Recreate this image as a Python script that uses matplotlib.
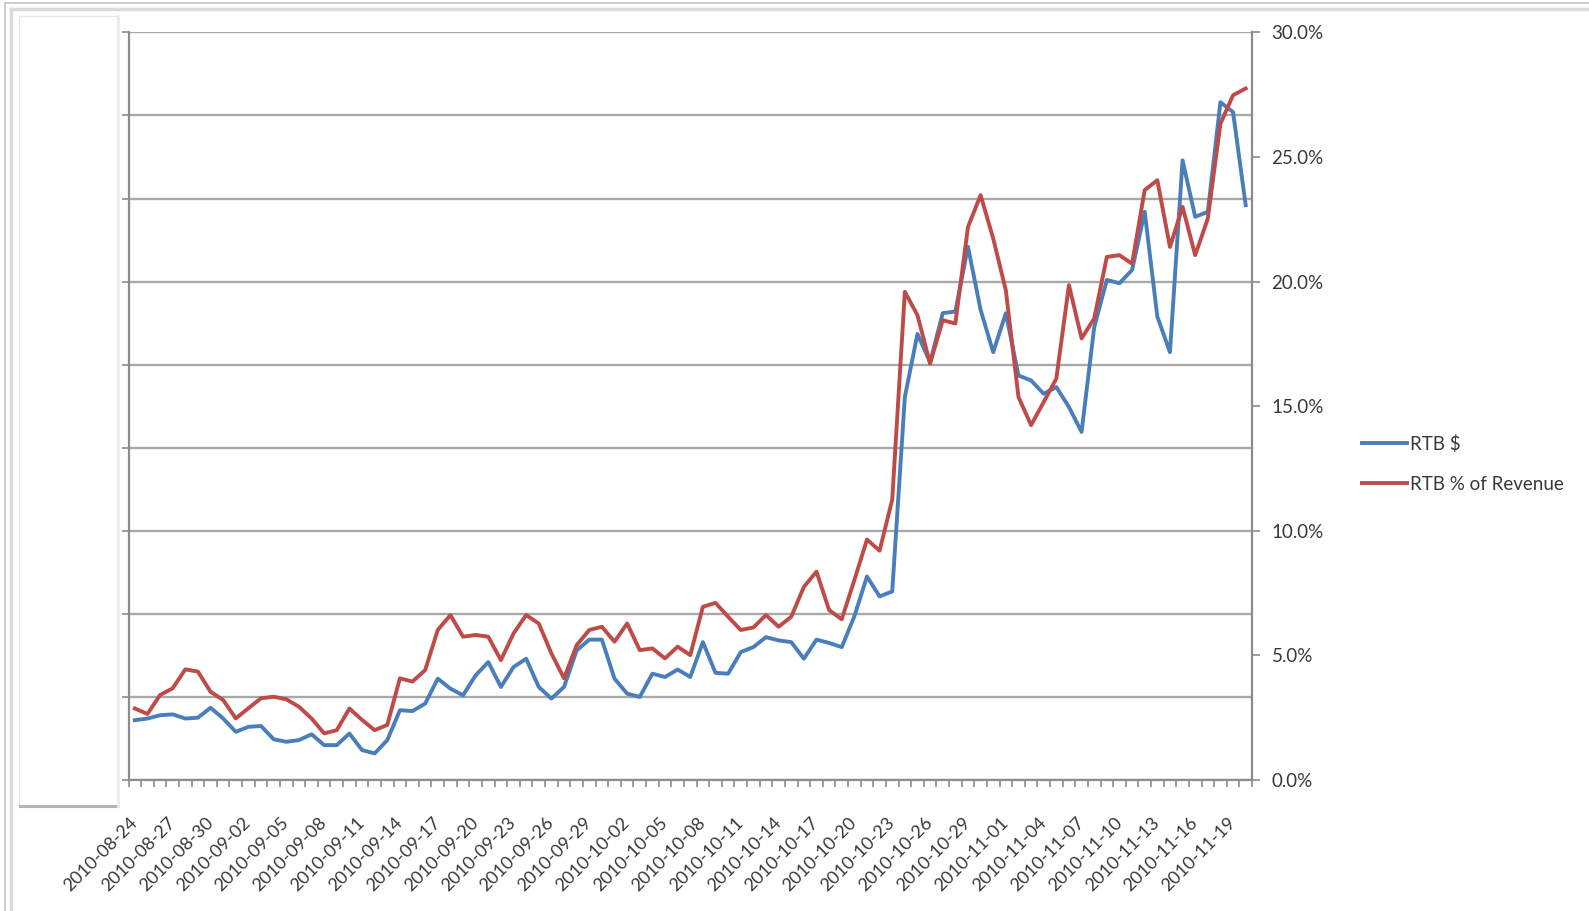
import matplotlib
matplotlib.use('Agg')
import matplotlib.pyplot as plt
import numpy as np
import pandas as pd
from matplotlib.lines import Line2D
from matplotlib.patches import Rectangle

plt.rcParams['font.family'] = ['Lato', 'DejaVu Sans']

# ---------------- data ----------------
dates = pd.date_range('2010-08-24', '2010-11-20', freq='D')
categories = [d.strftime('%Y-%m-%d') for d in dates]

# RTB $ (left axis, unlabeled; units = one gridline step)
rtb_dollars = [0.72, 0.74, 0.78, 0.79, 0.74, 0.75, 0.87, 0.74, 0.58, 0.64,
               0.65, 0.49, 0.46, 0.48, 0.55, 0.42, 0.42, 0.56, 0.36, 0.32,
               0.48, 0.84, 0.83, 0.92, 1.22, 1.10, 1.02, 1.26, 1.42, 1.12,
               1.36, 1.46, 1.12, 0.98, 1.12, 1.56, 1.69, 1.69, 1.22, 1.04,
               1.00, 1.28, 1.24, 1.33, 1.24, 1.66, 1.29, 1.28, 1.54, 1.60,
               1.72, 1.68, 1.66, 1.46, 1.69, 1.65, 1.60, 1.97, 2.45, 2.21,
               2.27, 4.61, 5.37, 5.03, 5.62, 5.64, 6.42, 5.66, 5.15, 5.62,
               4.87, 4.81, 4.65, 4.73, 4.49, 4.19, 5.45, 6.02, 5.98, 6.14,
               6.84, 5.58, 5.15, 7.46, 6.78, 6.84, 8.16, 8.04, 6.92]

# RTB % of Revenue (right axis, percent)
rtb_pct = [2.87, 2.65, 3.41, 3.68, 4.44, 4.35, 3.54, 3.21, 2.47, 2.88,
           3.28, 3.34, 3.24, 2.94, 2.47, 1.87, 2.00, 2.87, 2.41, 2.00,
           2.21, 4.08, 3.95, 4.41, 6.02, 6.62, 5.75, 5.82, 5.75, 4.81,
           5.88, 6.62, 6.28, 5.08, 4.08, 5.41, 6.02, 6.15, 5.55, 6.28,
           5.21, 5.28, 4.88, 5.35, 5.01, 6.95, 7.11, 6.55, 6.02, 6.12,
           6.62, 6.15, 6.55, 7.75, 8.36, 6.82, 6.45, 8.02, 9.65, 9.20,
           11.25, 19.59, 18.65, 16.71, 18.45, 18.32, 22.19, 23.47, 21.73, 19.65,
           15.37, 14.24, 15.17, 16.11, 19.86, 17.72, 18.52, 20.99, 21.06, 20.72,
           23.67, 24.07, 21.39, 23.00, 21.06, 22.53, 26.34, 27.48, 27.75]

pct_ticks = [0, 5, 10, 15, 20, 25, 30]
pct_labels = ['0.0%', '5.0%', '10.0%', '15.0%', '20.0%', '25.0%', '30.0%']
series_names = ['RTB $', 'RTB % of Revenue']

# ---------------- figure ----------------
W, H = 1589, 911
fig = plt.figure(figsize=(W / 100, H / 100), dpi=100)
fig.patch.set_facecolor('white')


def fx(px):
    return px / W


def fy(py):
    return 1 - py / H


# decorative frame (screenshot border and left panel)
fig.add_artist(Line2D([fx(5), fx(5)], [fy(3), fy(911)], color='#c4c4c4', lw=1.2))
fig.add_artist(Line2D([fx(5), fx(1589)], [fy(3), fy(3)], color='#c4c4c4', lw=1.2))
fig.add_artist(Line2D([fx(11), fx(11)], [fy(9), fy(911)], color='#dadada', lw=2.5))
fig.add_artist(Line2D([fx(11), fx(1589)], [fy(9), fy(9)], color='#dadada', lw=2.5))
fig.add_artist(Rectangle((fx(19), fy(806)), fx(99), (806 - 16) / H,
                         facecolor='white', edgecolor='#e6e6e6', lw=1.0))
fig.add_artist(Line2D([fx(20), fx(118)], [fy(806), fy(806)], color='#b4b4b4', lw=2.2))
fig.add_artist(Line2D([fx(118), fx(118)], [fy(16), fy(806)], color='#ececec', lw=2.0))

L, R, T, B = 128.5, 1252, 32.4, 780
ax = fig.add_axes([fx(L), fy(B), fx(R - L), (B - T) / H])
ax2 = ax.twinx()

x = np.arange(len(categories))
l1, = ax.plot(x, rtb_dollars, color='#4A7EBB', lw=2.8, solid_joinstyle='round',
              label=series_names[0], zorder=3)
l2, = ax2.plot(x, rtb_pct, color='#BE4B48', lw=2.8, solid_joinstyle='round',
               label=series_names[1], zorder=3)

axis_col = '#8c8c8c'
txt_col = '#383838'

ax.set_xlim(-0.5, len(categories) - 0.5)
ax.set_ylim(0, 9)
ax.set_yticks(range(0, 10))
ax.yaxis.grid(True, color='#a9a9a9', lw=1.7)
ax.set_axisbelow(True)
ax.tick_params(axis='y', which='major', length=5, width=1.2, color=axis_col,
               labelleft=False)

ax.set_xticks(x[::3])
ax.set_xticklabels(categories[::3])
ax.set_xticks(np.arange(-0.5, len(categories) + 0.5, 1), minor=True)
ax.tick_params(axis='x', which='major', length=0, pad=29, labelsize=13,
               labelcolor=txt_col)
ax.tick_params(axis='x', which='minor', length=5, width=1.2, color=axis_col)
for lbl in ax.get_xticklabels():
    lbl.set_rotation(45)
    lbl.set_ha('right')
    lbl.set_va('center')
    lbl.set_rotation_mode('anchor')

ax2.set_ylim(0, 30)
ax2.set_yticks(pct_ticks)
ax2.set_yticklabels(pct_labels)
ax2.tick_params(axis='y', length=6, width=1.2, color=axis_col, pad=8,
                labelsize=13.5, labelcolor=txt_col)

for a in (ax, ax2):
    a.spines['top'].set_visible(False)
    for s in ('left', 'right', 'bottom'):
        a.spines[s].set_color(axis_col)
        a.spines[s].set_linewidth(1.6)
ax.spines['right'].set_visible(False)
ax2.spines['left'].set_visible(False)
ax2.spines['bottom'].set_visible(False)

fig.legend([l1, l2], series_names, loc='upper left',
           bbox_to_anchor=(fx(1362), fy(435)), borderaxespad=0, borderpad=0,
           frameon=False, fontsize=13.5, handlelength=2.4, handletextpad=0.15,
           labelspacing=1.22, labelcolor=txt_col)

fig.savefig('out.png', dpi=100, facecolor='white')
